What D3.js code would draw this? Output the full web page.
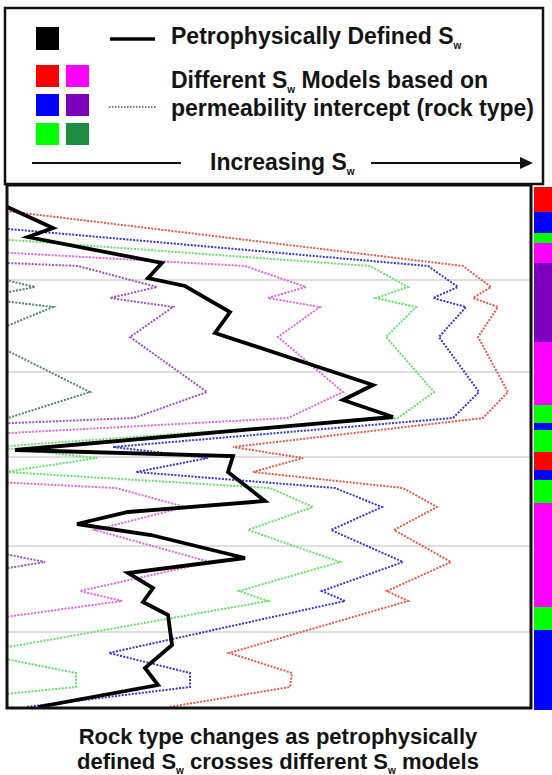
<!DOCTYPE html>
<html lang="en">
<head>
<meta charset="UTF-8">
<title>Rock type from Sw models</title>
<script src="https://d3js.org/d3.v7.min.js"></script>
<style>
  body { margin: 0; background: #fff; }
  text { font-family: "Liberation Sans", Arial, sans-serif; font-weight: bold; fill: #141414; }
</style>
</head>
<body>
<script>
// depth samples shared by the six model curves (arbitrary depth units)
var depths = [185, 266, 287, 298, 307, 337, 392, 418, 447, 458, 472, 488, 507, 530, 562, 591, 601, 653, 673, 687, 707];
// Sw of each model at those depths (arbitrary Sw units, < left edge means off-scale)
var swRed       = [-210, 463, 491, 473, 498, 478, 508, 483, 233, 303, 253, 403, 437, 394, 451, 387, 408, 229, 292, 290, 169];
var swBlue      = [-490, 428, 458, 433, 466, 439, 479, 453, 113, 208, 136, 335, 382, 331, 403, 322, 345, 109, 190, 190, 26];
var swGreen     = [-751, 370, 408, 376, 416, 386, 434, 398, -5, 97, 5, 270, 313, 248, 340, 239, 268, -25, 76, 76, -124];
var swMagenta   = [-1201, 245, 306, 268, 320, 278, 343, 288, -249, -99, -206, 116, 185, 95, 210, 80, 122, -258, -122, -127, -387];
var swPurple    = [-1806, 78, 157, 110, 173, 130, 207, 134, -566, -370, -510, -90, 6, -115, 45, -134, -76, -577, -400, -406, -745];
var swDarkGreen = [-2208, -54, 35, -22, 53, -20, 90, 8, -790, -566, -726, -246, -138, -275, -93, -298, -230, -803, -602, -608, -995];

// petrophysically defined Sw
var petroDepth = [206, 228, 237, 263, 278, 286, 312, 333, 385, 400, 417, 450, 456, 472, 501, 512, 524, 535, 558, 573, 588, 602, 615, 645, 668, 685, 707];
var petroSw    = [5, 53, 28, 162, 148, 185, 230, 215, 373, 343, 393, 15, 233, 228, 265, 128, 77, 151, 245, 128, 153, 143, 168, 172, 145, 158, 38];

// rock type column on the right
var stripTop    = [187, 212, 233, 243, 263, 342, 405, 423, 430, 452, 470, 480, 503, 607, 630];
var stripBottom = [212, 233, 243, 263, 342, 405, 423, 430, 452, 470, 480, 503, 607, 630, 710];
var stripType   = ['red', 'blue', 'green', 'magenta', 'purple', 'magenta', 'green', 'blue', 'green', 'red', 'blue', 'green', 'magenta', 'green', 'blue'];

var gridDepths = [280, 372, 457, 546, 632];

// colours
var rockColor = {red: '#ff0000', magenta: '#ff00ff', blue: '#0000ff', purple: '#7d00bd', green: '#00ff00', darkgreen: '#1e8c42'};
var curveColor = {red: '#ec5a48', blue: '#3838d2', green: '#66e466', magenta: '#e864e8', purple: '#a452c4', darkgreen: '#52886c'};

var width = 552, height = 775;
var plot = {left: 7, top: 185, right: 531, bottom: 708};

var svg = d3.select('body').append('svg').attr('width', width).attr('height', height);

var x = d3.scaleLinear().domain([7, 531]).range([plot.left, plot.right]);
var y = d3.scaleLinear().domain([185, 708]).range([plot.top, plot.bottom]);

// text with an "S" + subscript "w"  ('_w' marks the subscript)
function richText(g, px, py, parts, size, anchor) {
    var t = g.append('text').attr('x', px).attr('y', py).attr('font-size', size + 'px')
        .attr('text-anchor', anchor || 'start');
    var shifted = false;
    parts.forEach(function (p) {
        if (p === '_w') {
            t.append('tspan').attr('font-size', '10px').attr('dy', 5).text('w');
            shifted = true;
        } else {
            var s = t.append('tspan').text(p);
            if (shifted) { s.attr('dy', -5); shifted = false; }
        }
    });
    return t;
}

// ---------- legend ----------
var legend = svg.append('g');
legend.append('rect').attr('x', 5).attr('y', 8).attr('width', 538).attr('height', 176)
    .attr('fill', '#fff').attr('stroke', '#111').attr('stroke-width', 2.5);

legend.append('rect').attr('x', 36).attr('y', 27).attr('width', 23).attr('height', 23).attr('fill', '#000');
legend.append('line').attr('x1', 110).attr('x2', 155).attr('y1', 39).attr('y2', 39)
    .attr('stroke', '#000').attr('stroke-width', 3.5);
richText(legend, 171, 44, ['Petrophysically Defined S', '_w'], 23);

var squares = [['red', 'magenta'], ['blue', 'purple'], ['green', 'darkgreen']];
squares.forEach(function (row, i) {
    row.forEach(function (k, j) {
        legend.append('rect').attr('x', 36 + j * 30).attr('y', 65 + i * 29)
            .attr('width', 23).attr('height', 22).attr('fill', rockColor[k]);
    });
});
legend.append('line').attr('x1', 109).attr('x2', 157).attr('y1', 107).attr('y2', 107)
    .attr('stroke', '#4a4a7a').attr('stroke-width', 1.5).attr('stroke-dasharray', '1.5,1.5');
richText(legend, 171, 88, ['Different S', '_w', ' Models based on'], 23);
richText(legend, 171, 116, ['permeability intercept (rock type)'], 23);

legend.append('line').attr('x1', 32).attr('x2', 181).attr('y1', 163).attr('y2', 163)
    .attr('stroke', '#111').attr('stroke-width', 2);
legend.append('line').attr('x1', 371).attr('x2', 522).attr('y1', 163).attr('y2', 163)
    .attr('stroke', '#111').attr('stroke-width', 2);
legend.append('path').attr('d', 'M520,157 L533,163 L520,169 Z').attr('fill', '#111');
richText(legend, 210, 170, ['Increasing S', '_w'], 23);

// ---------- plot ----------
svg.append('clipPath').attr('id', 'clip').append('rect')
    .attr('x', plot.left).attr('y', plot.top)
    .attr('width', plot.right - plot.left).attr('height', plot.bottom - plot.top);

var inner = svg.append('g').attr('clip-path', 'url(#clip)');

inner.selectAll('line.grid').data(gridDepths).enter().append('line')
    .attr('class', 'grid')
    .attr('x1', plot.left).attr('x2', plot.right)
    .attr('y1', d => y(d)).attr('y2', d => y(d))
    .attr('stroke', '#d4d4d4').attr('stroke-width', 1.5);

var models = [
    {key: 'darkgreen', sw: swDarkGreen},
    {key: 'purple', sw: swPurple},
    {key: 'magenta', sw: swMagenta},
    {key: 'green', sw: swGreen},
    {key: 'blue', sw: swBlue},
    {key: 'red', sw: swRed}
];

var line = d3.line().x(d => x(d[0])).y(d => y(d[1]));

inner.selectAll('path.model').data(models).enter().append('path')
    .attr('class', 'model')
    .attr('d', m => line(m.sw.map((v, i) => [v, depths[i]])))
    .attr('fill', 'none')
    .attr('stroke', m => curveColor[m.key])
    .attr('stroke-width', 2)
    .attr('stroke-dasharray', '2,1.4');

inner.append('path')
    .attr('d', line(petroSw.map((v, i) => [v, petroDepth[i]])))
    .attr('fill', 'none').attr('stroke', '#000').attr('stroke-width', 3.8)
    .attr('stroke-linejoin', 'miter');

// rock type column
svg.selectAll('rect.strip').data(stripType).enter().append('rect')
    .attr('class', 'strip')
    .attr('x', 534).attr('width', width - 534)
    .attr('y', (d, i) => y(stripTop[i]))
    .attr('height', (d, i) => y(stripBottom[i]) - y(stripTop[i]))
    .attr('fill', d => rockColor[d]);

// frame
svg.append('rect').attr('x', plot.left).attr('y', plot.top)
    .attr('width', plot.right - plot.left).attr('height', plot.bottom - plot.top)
    .attr('fill', 'none').attr('stroke', '#111').attr('stroke-width', 3);

// ---------- caption ----------
richText(svg, 278, 744, ['Rock type changes as petrophysically'], 22, 'middle');
richText(svg, 278, 769, ['defined S', '_w', ' crosses different S', '_w', ' models'], 22, 'middle');
</script>
</body>
</html>
